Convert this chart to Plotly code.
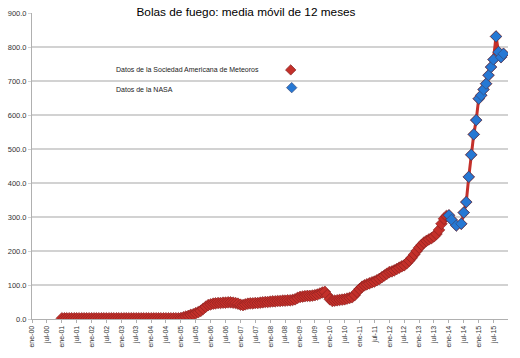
import plotly.graph_objects as go
import pandas as pd

# ---------------- data ----------------
tick_labels = ["ene-00", "jul-00", "ene-01", "jul-01", "ene-02", "jul-02", "ene-03", "jul-03",
               "ene-04", "jul-04", "ene-05", "jul-05", "ene-06", "jul-06", "ene-07", "jul-07",
               "ene-08", "jul-08", "ene-09", "jul-09", "ene-10", "jul-10", "ene-11", "jul-11",
               "ene-12", "jul-12", "ene-13", "jul-13", "ene-14", "jul-14", "ene-15", "jul-15"]
tick_dates = ["2000-01-01", "2000-07-01", "2001-01-01", "2001-07-01", "2002-01-01", "2002-07-01",
              "2003-01-01", "2003-07-01", "2004-01-01", "2004-07-01", "2005-01-01", "2005-07-01",
              "2006-01-01", "2006-07-01", "2007-01-01", "2007-07-01", "2008-01-01", "2008-07-01",
              "2009-01-01", "2009-07-01", "2010-01-01", "2010-07-01", "2011-01-01", "2011-07-01",
              "2012-01-01", "2012-07-01", "2013-01-01", "2013-07-01", "2014-01-01", "2014-07-01",
              "2015-01-01", "2015-07-01"]

# American Meteor Society, monthly from ene-01 to dic-13
ams_start = "2001-01-01"
ams_values = [
    # 2001
    2, 2, 2, 2, 2, 2, 2, 2, 2, 2, 2, 2,
    # 2002
    2, 2, 2, 2, 2, 2, 2, 2, 2, 2, 2, 2,
    # 2003
    2, 2, 2, 2, 2, 2, 2, 2, 2, 2, 2, 2,
    # 2004
    2, 2, 2, 2, 2, 2, 2, 2, 2, 2, 2, 2,
    # 2005
    3, 5, 7, 9, 12, 14, 17, 20, 24, 30, 36, 41,
    # 2006
    43, 45, 46, 47, 47, 48, 48, 49, 49, 48, 47, 45,
    # 2007
    42, 41, 43, 45, 46, 46, 47, 47, 48, 49, 50, 50,
    # 2008
    51, 52, 52, 53, 53, 54, 54, 55, 55, 56, 58, 62,
    # 2009
    65, 66, 67, 68, 68, 69, 70, 72, 75, 78, 80, 70,
    # 2010
    58, 53, 54, 55, 56, 57, 58, 60, 62, 64, 70, 80,
    # 2011
    88, 95, 99, 102, 105, 108, 110, 114, 118, 123, 128, 133,
    # 2012
    138, 140, 143, 147, 151, 155, 158, 164, 172, 180, 190, 200,
    # 2013
    210, 218, 225, 230, 234, 238, 243, 250, 262, 280, 295, 303,
]

# NASA
nasa_dates = ["2014-01-01", "2014-02-01", "2014-04-01", "2014-06-01", "2014-07-01", "2014-08-01",
              "2014-09-01", "2014-10-01", "2014-11-01", "2014-12-01", "2015-01-01", "2015-02-01",
              "2015-03-01", "2015-04-01", "2015-05-01", "2015-06-01", "2015-07-01", "2015-08-01",
              "2015-09-01", "2015-10-01", "2015-11-01"]
nasa_values = [305, 292, 275, 280, 313, 344, 418, 483, 543, 585, 648, 658,
               675, 692, 717, 741, 763, 831, 785, 770, 780]

series_names = ["Datos de la Sociedad Americana de Meteoros", "Datos de la NASA"]
title_text = "Bolas de fuego: media móvil de 12 meses"

# ---------------- figure ----------------
ams_dates = [d.strftime("%Y-%m-%d") for d in pd.date_range(ams_start, periods=len(ams_values), freq="MS")]
red_x = ams_dates + nasa_dates
red_y = ams_values + nasa_values

RED = "rgb(196,48,42)"
RED_EDGE = "rgb(130,30,30)"
BLUE = "rgb(38,120,212)"
BLUE_EDGE = "rgb(55,75,120)"

fig = go.Figure()
fig.add_trace(go.Scatter(
    x=red_x, y=red_y, mode="lines+markers", name=series_names[0],
    line=dict(color=RED, width=3),
    marker=dict(symbol="diamond", size=9, color=RED, line=dict(color=RED_EDGE, width=0.6)),
    showlegend=False))
fig.add_trace(go.Scatter(
    x=nasa_dates, y=nasa_values, mode="markers", name=series_names[1],
    marker=dict(symbol="diamond", size=8.5, color=BLUE, line=dict(color=BLUE_EDGE, width=0.7)),
    showlegend=False))

# legend glyphs (overlay axis in plot-area fraction coordinates)
fig.add_trace(go.Scatter(
    x=[0.5435, 0.5456], y=[0.814, 0.756], xaxis="x2", yaxis="y2", mode="markers",
    marker=dict(symbol="diamond", size=8, color=[RED, BLUE],
                line=dict(color=[RED_EDGE, BLUE_EDGE], width=0.7)),
    showlegend=False, hoverinfo="skip"))

W, H = 520, 358
L, R, T, B = 32, 12, 13, 39
pw, ph = W - L - R, H - T - B

def px_x(x):
    return (x - L) / pw

def px_y(y):
    return (H - B - y) / ph

fig.add_annotation(x=px_x(114), y=px_y(69.5), xref="paper", yref="paper", text=series_names[0],
                   showarrow=False, xanchor="left", yanchor="middle",
                   font=dict(family="Liberation Sans, Arial", size=7, color="#222"))
fig.add_annotation(x=px_x(114), y=px_y(89), xref="paper", yref="paper", text=series_names[1],
                   showarrow=False, xanchor="left", yanchor="middle",
                   font=dict(family="Liberation Sans, Arial", size=7, color="#222"))

fig.update_layout(
    width=W, height=H,
    margin=dict(l=L, r=R, t=T, b=B, pad=0, autoexpand=False),
    paper_bgcolor="white", plot_bgcolor="white",
    title=dict(text=title_text, x=246 / W, xanchor="center", y=1 - 12 / H, yanchor="middle",
               yref="container", automargin=False,
               font=dict(family="Liberation Sans, Arial", size=11.8, color="black")),
    xaxis=dict(type="date", range=["2000-01-01", "2015-12-26"], automargin=False,
               tickvals=tick_dates, ticktext=tick_labels, tickangle=-90,
               tickfont=dict(family="Liberation Sans, Arial", size=7, color="#333"),
               showgrid=False, zeroline=False,
               showline=True, linecolor="#b0b0b0", linewidth=1,
               ticks="outside", ticklen=3, tickcolor="#b0b0b0"),
    yaxis=dict(range=[0, 900], dtick=100, tickformat=".1f", automargin=False,
               tickfont=dict(family="Liberation Sans, Arial", size=7.5, color="#333"),
               showgrid=True, gridcolor="#d2d2d2", gridwidth=1.5, zeroline=False,
               showline=True, linecolor="#b0b0b0", linewidth=1,
               ticks="outside", ticklen=3, tickcolor="#d2d2d2"),
    xaxis2=dict(overlaying="x", range=[0, 1], visible=False),
    yaxis2=dict(overlaying="y", range=[0, 1], visible=False),
    hovermode=False,
)

fig.write_html("out.html", config={"displayModeBar": False},
               post_script="document.body.style.margin='0';document.body.style.overflow='hidden';")
